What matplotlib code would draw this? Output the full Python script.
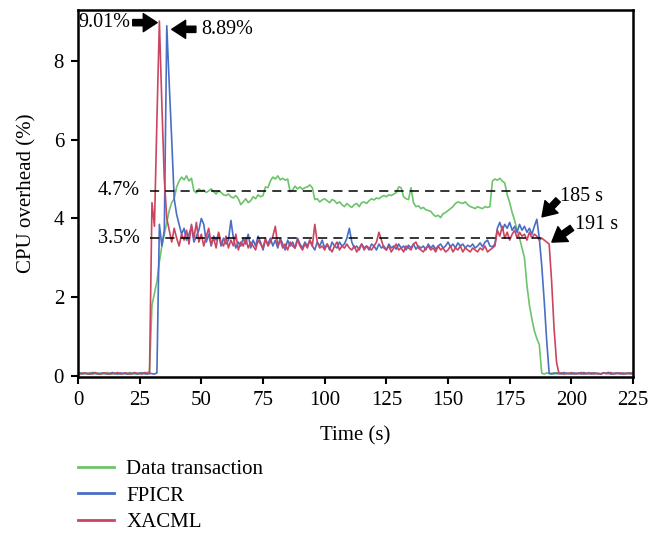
import numpy as np
import matplotlib
matplotlib.use("Agg")
import matplotlib.pyplot as plt

# time axis in seconds, one sample per second
time_s = np.arange(0, 226)

data_transaction = [
    0.06, 0.08, 0.05, 0.07, 0.06, 0.09, 0.05, 0.06, 0.08, 0.07,
    0.05, 0.07, 0.09, 0.06, 0.05, 0.08, 0.06, 0.07, 0.05, 0.08,
    0.06, 0.09, 0.07, 0.05, 0.06, 0.08, 0.07, 0.06, 0.09, 0.10,
    1.80, 2.10, 2.40, 2.90, 3.30, 3.60, 3.90, 4.20, 4.40, 4.50,
    4.80, 4.95, 5.05, 4.98, 5.08, 4.95, 5.02, 4.70, 4.65, 4.75,
    4.70, 4.72, 4.66, 4.70, 4.75, 4.68, 4.62, 4.70, 4.66, 4.60,
    4.58, 4.62, 4.55, 4.52, 4.58, 4.50, 4.35, 4.42, 4.50, 4.40,
    4.45, 4.55, 4.50, 4.60, 4.55, 4.58, 4.80, 4.78, 4.95, 5.05,
    5.00, 5.08, 4.98, 5.02, 4.97, 5.00, 4.68, 4.72, 4.82, 4.75,
    4.80, 4.74, 4.78, 4.80, 4.85, 4.78, 4.48, 4.50, 4.42, 4.47,
    4.50, 4.45, 4.40, 4.48, 4.45, 4.38, 4.42, 4.35, 4.30, 4.38,
    4.32, 4.28, 4.35, 4.38, 4.30, 4.40, 4.42, 4.38, 4.45, 4.50,
    4.47, 4.52, 4.50, 4.55, 4.58, 4.55, 4.60, 4.58, 4.62, 4.65,
    4.80, 4.78, 4.55, 4.50, 4.48, 4.78, 4.40, 4.30, 4.32, 4.25,
    4.28, 4.22, 4.20, 4.18, 4.10, 4.05, 4.08, 4.02, 4.12, 4.15,
    4.20, 4.25, 4.30, 4.38, 4.42, 4.40, 4.38, 4.42, 4.35, 4.30,
    4.28, 4.25, 4.30, 4.27, 4.25, 4.30, 4.28, 4.30, 4.95, 5.00,
    4.97, 5.02, 4.95, 4.90, 4.60, 4.40, 4.15, 3.95, 3.70, 3.50,
    3.25, 3.00, 2.30, 1.80, 1.45, 1.15, 0.95, 0.80, 0.07, 0.05,
    0.08, 0.06, 0.07, 0.05, 0.09, 0.06, 0.08, 0.05, 0.07, 0.06,
    0.09, 0.07, 0.05, 0.08, 0.06, 0.07, 0.05, 0.09, 0.06, 0.08,
    0.07, 0.05, 0.06, 0.08, 0.07, 0.09, 0.05, 0.06, 0.08, 0.07,
    0.06, 0.08, 0.05, 0.07, 0.06, 0.08,
]

fpicr = [
    0.05, 0.07, 0.06, 0.08, 0.05, 0.06, 0.09, 0.07, 0.05, 0.06,
    0.08, 0.06, 0.05, 0.07, 0.09, 0.06, 0.05, 0.08, 0.07, 0.06,
    0.05, 0.07, 0.06, 0.09, 0.05, 0.07, 0.08, 0.06, 0.05, 0.07,
    0.06, 0.05, 0.08, 3.85, 3.30, 3.70, 8.89, 7.40, 6.00, 4.50,
    4.10, 3.85, 3.60, 3.75, 3.45, 3.60, 3.80, 3.40, 3.55, 3.70,
    4.00, 3.85, 3.40, 3.60, 3.30, 3.55, 3.45, 3.60, 3.30, 3.50,
    3.35, 3.45, 3.95, 3.50, 3.25, 3.40, 3.30, 3.50, 3.35, 3.60,
    3.25, 3.45, 3.30, 3.55, 3.40, 3.20, 3.45, 3.35, 3.50, 3.30,
    3.45, 3.25, 3.50, 3.35, 3.20, 3.45, 3.30, 3.40, 3.25, 3.50,
    3.35, 3.25, 3.40, 3.30, 3.45, 3.30, 3.20, 3.40, 3.30, 3.45,
    3.25, 3.35, 3.20, 3.40, 3.30, 3.25, 3.40, 3.30, 3.35, 3.50,
    3.75, 3.40, 3.25, 3.30, 3.20, 3.35, 3.25, 3.30, 3.20, 3.35,
    3.30, 3.20, 3.35, 3.25, 3.30, 3.20, 3.35, 3.25, 3.30, 3.22,
    3.35, 3.25, 3.30, 3.20, 3.32, 3.25, 3.35, 3.22, 3.30, 3.25,
    3.30, 3.20, 3.35, 3.25, 3.32, 3.22, 3.30, 3.35, 3.25, 3.30,
    3.40, 3.28, 3.35, 3.25, 3.38, 3.30, 3.35, 3.25, 3.32, 3.28,
    3.35, 3.25, 3.30, 3.38, 3.28, 3.40, 3.45, 3.30, 3.28, 3.35,
    3.75, 3.90, 3.70, 3.85, 3.75, 3.90, 3.70, 3.80, 3.65, 3.85,
    3.70, 3.80, 3.65, 3.75, 3.60, 3.80, 3.98, 3.50, 2.80, 1.90,
    0.90, 0.07, 0.05, 0.08, 0.06, 0.07, 0.05, 0.09, 0.06, 0.07,
    0.05, 0.08, 0.06, 0.07, 0.05, 0.09, 0.06, 0.07, 0.05, 0.08,
    0.06, 0.07, 0.05, 0.08, 0.06, 0.09, 0.05, 0.07, 0.06, 0.08,
    0.05, 0.07, 0.06, 0.08, 0.05, 0.07,
]

xacml = [
    0.07, 0.05, 0.08, 0.06, 0.07, 0.05, 0.06, 0.09, 0.06, 0.05,
    0.07, 0.08, 0.06, 0.05, 0.07, 0.06, 0.09, 0.05, 0.06, 0.08,
    0.07, 0.05, 0.06, 0.08, 0.07, 0.06, 0.05, 0.09, 0.07, 0.06,
    4.40, 3.80, 6.50, 9.01, 6.90, 5.00, 4.00, 3.70, 3.40, 3.75,
    3.50, 3.30, 3.60, 3.45, 3.70, 3.35, 3.85, 3.50, 3.90, 3.40,
    3.60, 3.30, 3.55, 3.75, 3.35, 3.50, 3.25, 3.65, 3.40, 3.30,
    3.55, 3.25, 3.45, 3.30, 3.60, 3.20, 3.40, 3.30, 3.50, 3.25,
    3.40, 3.30, 3.20, 3.45, 3.35, 3.25, 3.50, 3.30, 3.40, 3.55,
    3.80, 3.30, 3.45, 3.25, 3.35, 3.20, 3.40, 3.30, 3.25, 3.45,
    3.30, 3.20, 3.35, 3.25, 3.45, 3.30, 3.85, 3.40, 3.25, 3.30,
    3.20, 3.35, 3.25, 3.15, 3.30, 3.40, 3.20, 3.30, 3.25, 3.35,
    3.25, 3.20, 3.30, 3.15, 3.25, 3.35, 3.20, 3.30, 3.25, 3.20,
    3.30, 3.40, 3.65, 3.45, 3.25, 3.20, 3.30, 3.15, 3.25, 3.35,
    3.20, 3.25, 3.15, 3.30, 3.25, 3.20, 3.35, 3.40, 3.25, 3.20,
    3.15, 3.25, 3.30, 3.20, 3.25, 3.15, 3.30, 3.20, 3.25, 3.15,
    3.20, 3.30, 3.15, 3.25, 3.20, 3.30, 3.15, 3.25, 3.20, 3.15,
    3.25, 3.20, 3.15, 3.25, 3.20, 3.30, 3.15, 3.20, 3.25, 3.30,
    3.70, 3.55, 3.80, 3.50, 3.65, 3.45, 3.60, 3.70, 3.50, 3.65,
    3.55, 3.60, 3.45, 3.65, 3.50, 3.60, 3.55, 3.45, 3.50, 3.45,
    3.40, 3.35, 2.40, 1.20, 0.35, 0.06, 0.08, 0.05, 0.07, 0.06,
    0.08, 0.05, 0.07, 0.06, 0.09, 0.05, 0.07, 0.06, 0.08, 0.05,
    0.07, 0.06, 0.05, 0.08, 0.07, 0.06, 0.09, 0.05, 0.07, 0.06,
    0.08, 0.05, 0.07, 0.06, 0.08, 0.06,
]

# reference levels (value, label) and the span they cover
ref_levels = [4.7, 3.5]
ref_labels = ["4.7%", "3.5%"]
ref_span = (29, 190)

plt.rcParams['font.family'] = ['Liberation Serif', 'DejaVu Serif']
plt.rcParams['font.size'] = 15

fig = plt.figure(figsize=(6.63, 5.36), dpi=100)
ax = fig.add_axes([0.1176, 0.2966, 0.8372, 0.6847])

ax.plot(time_s, data_transaction, color='#6cc46a', lw=1.2, label='Data transaction')
ax.plot(time_s, fpicr, color='#4a6ec6', lw=1.2, label='FPICR')
ax.plot(time_s, xacml, color='#cb4460', lw=1.2, label='XACML')

for lvl, lab in zip(ref_levels, ref_labels):
    ax.plot(ref_span, [lvl, lvl], color='black', lw=1.1, ls=(0, (6, 4)))
    ax.text(ref_span[0] - 4, lvl, lab, ha='right', va='center', fontsize=14.5)

# peak / end-time call-outs: arrow tail -> head, then label
arrow = dict(facecolor='black', edgecolor='black', width=4.5, headwidth=13,
             headlength=10, shrink=0)
ax.annotate('', xy=(32.1, 8.97), xytext=(22.2, 8.97), arrowprops=arrow)
ax.text(21.3, 8.97, '9.01%', ha='right', va='center', fontsize=14.5)
ax.annotate('', xy=(38.0, 8.8), xytext=(47.8, 8.8), arrowprops=arrow)
ax.text(50.0, 8.8, '8.89%', ha='left', va='center', fontsize=14.5)
ax.annotate('', xy=(188.1, 4.04), xytext=(194.6, 4.47), arrowprops=arrow)
ax.text(195.5, 4.55, '185 s', ha='left', va='center', fontsize=14.5)
ax.annotate('', xy=(192.1, 3.4), xytext=(200.2, 3.76), arrowprops=arrow)
ax.text(201.5, 3.84, '191 s', ha='left', va='center', fontsize=14.5)

ax.set_xlim(0, 225)
ax.set_ylim(-0.025, 9.29)
ax.set_xticks(np.arange(0, 226, 25))
ax.set_yticks([0, 2, 4, 6, 8])
ax.tick_params(direction='out', length=5, width=1.5, pad=5)
for s in ax.spines.values():
    s.set_linewidth(1.8)

ax.set_xlabel('Time (s)', labelpad=12)
ax.set_ylabel('CPU overhead (%)', labelpad=12)

leg = fig.legend(loc='upper left', bbox_to_anchor=(0.118, 0.143), frameon=False,
                 borderpad=0, borderaxespad=0, handlelength=1.7, handletextpad=0.6,
                 labelspacing=0.34)
for h in leg.get_lines():
    h.set_linewidth(2)

fig.savefig('out.png', dpi=100)
